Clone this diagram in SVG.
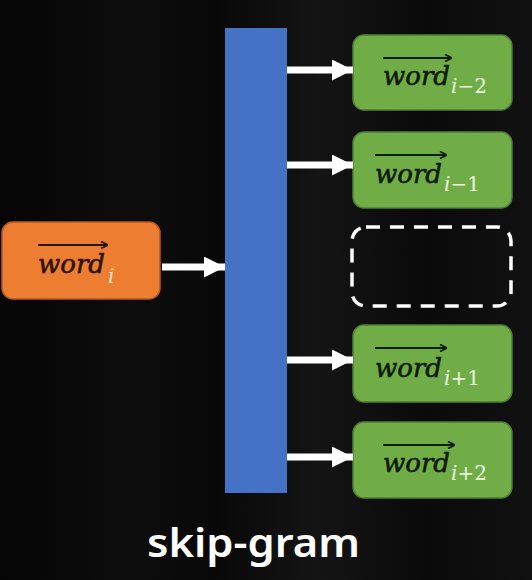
<svg xmlns="http://www.w3.org/2000/svg" width="532" height="580" viewBox="0 0 532 580">
<defs>
<linearGradient id="bg" x1="0" y1="0" x2="1" y2="0">
<stop offset="0" stop-color="#050505"/>
<stop offset="0.25" stop-color="#0d0d0d"/>
<stop offset="0.4" stop-color="#080808"/>
<stop offset="0.6" stop-color="#141414"/>
<stop offset="0.8" stop-color="#0a0a0a"/>
<stop offset="1" stop-color="#111111"/>
</linearGradient>
<marker id="ah" viewBox="0 0 10 10" refX="10" refY="5" markerWidth="3" markerHeight="3" orient="auto" markerUnits="strokeWidth">
<path d="M0,0 L10,5 L0,10 z" fill="#ffffff"/>
</marker>
<marker id="ov" viewBox="0 0 10 10" refX="10" refY="5" markerWidth="4" markerHeight="4" orient="auto" markerUnits="strokeWidth">
<path d="M2,1 L10,5 L2,9" fill="none" stroke="#2a1408" stroke-width="2"/>
</marker>
<marker id="ovg" viewBox="0 0 10 10" refX="10" refY="5" markerWidth="4" markerHeight="4" orient="auto" markerUnits="strokeWidth">
<path d="M2,1 L10,5 L2,9" fill="none" stroke="#0f1f08" stroke-width="2"/>
</marker>
</defs>
<style>
.green{fill:#70ad47;stroke:#4f7f30;stroke-width:1.5}
.orange{fill:#ed7d31;stroke:#b85a1c;stroke-width:1.5}
.w{font-family:"DejaVu Serif",serif;font-style:italic;font-size:26px;fill:#0f1a08;stroke:#0f1a08;stroke-width:0.6}
.wo{font-family:"DejaVu Serif",serif;font-style:italic;font-size:26px;fill:#2a1408;stroke:#2a1408;stroke-width:0.6}
.sub{font-family:"DejaVu Serif",serif;font-size:20px;fill:#eaf5e0}
.subo{font-family:"DejaVu Serif",serif;font-size:20px;fill:#fde4cf}
.it{font-style:italic}
.ovl{stroke:#0f1f08;stroke-width:2.2;fill:none}
.ovlo{stroke:#2a1408;stroke-width:2.2;fill:none}
.conn{stroke:#ffffff;stroke-width:7;fill:none}
</style>
<rect x="0" y="0" width="532" height="580" fill="url(#bg)"/>

<g id="input">
<rect x="2" y="222" width="158" height="77" rx="11" class="orange"/>
<line x1="38" y1="245" x2="108" y2="245" class="ovlo" marker-end="url(#ov)"/>
<text x="38" y="273" class="wo">word</text>
<text x="108" y="283" class="subo it">i</text>
</g>

<g id="projection">
<rect x="225" y="28" width="62" height="465" fill="#4472c4"/>
</g>

<g id="out-i-2">
<rect x="353" y="35" width="159" height="75" rx="11" class="green"/>
<line x1="383" y1="58" x2="452" y2="58" class="ovl" marker-end="url(#ovg)"/>
<text x="383" y="85" class="w">word</text>
<text x="451" y="93" class="sub"><tspan class="it">i</tspan>−2</text>
</g>

<g id="out-i-1">
<rect x="353" y="132" width="159" height="76" rx="11" class="green"/>
<line x1="375" y1="155" x2="447" y2="155" class="ovl" marker-end="url(#ovg)"/>
<text x="375" y="183" class="w">word</text>
<text x="444" y="191" class="sub"><tspan class="it">i</tspan>−1</text>
</g>

<g id="placeholder">
<rect x="352" y="227" width="159" height="79" rx="14" fill="none" stroke="#ffffff" stroke-width="3.5" stroke-dasharray="14 10"/>
</g>

<g id="out-i+1">
<rect x="353" y="325" width="159" height="77" rx="11" class="green"/>
<line x1="375" y1="348" x2="447" y2="348" class="ovl" marker-end="url(#ovg)"/>
<text x="375" y="377" class="w">word</text>
<text x="444" y="385" class="sub"><tspan class="it">i</tspan>+1</text>
</g>

<g id="out-i+2">
<rect x="353" y="422" width="159" height="76" rx="11" class="green"/>
<line x1="383" y1="445" x2="455" y2="445" class="ovl" marker-end="url(#ovg)"/>
<text x="383" y="472" class="w">word</text>
<text x="451" y="480" class="sub"><tspan class="it">i</tspan>+2</text>
</g>

<g id="connectors">
<line x1="162" y1="267" x2="225" y2="267" class="conn" marker-end="url(#ah)"/>
<line x1="287" y1="70" x2="353" y2="70" class="conn" marker-end="url(#ah)"/>
<line x1="287" y1="165" x2="353" y2="165" class="conn" marker-end="url(#ah)"/>
<line x1="287" y1="360" x2="353" y2="360" class="conn" marker-end="url(#ah)"/>
<line x1="287" y1="457" x2="353" y2="457" class="conn" marker-end="url(#ah)"/>
</g>

<text x="147" y="557" font-family="Noto Sans, sans-serif" font-weight="600" font-size="40" fill="#ffffff" textLength="213" lengthAdjust="spacingAndGlyphs">skip-gram</text>
</svg>
